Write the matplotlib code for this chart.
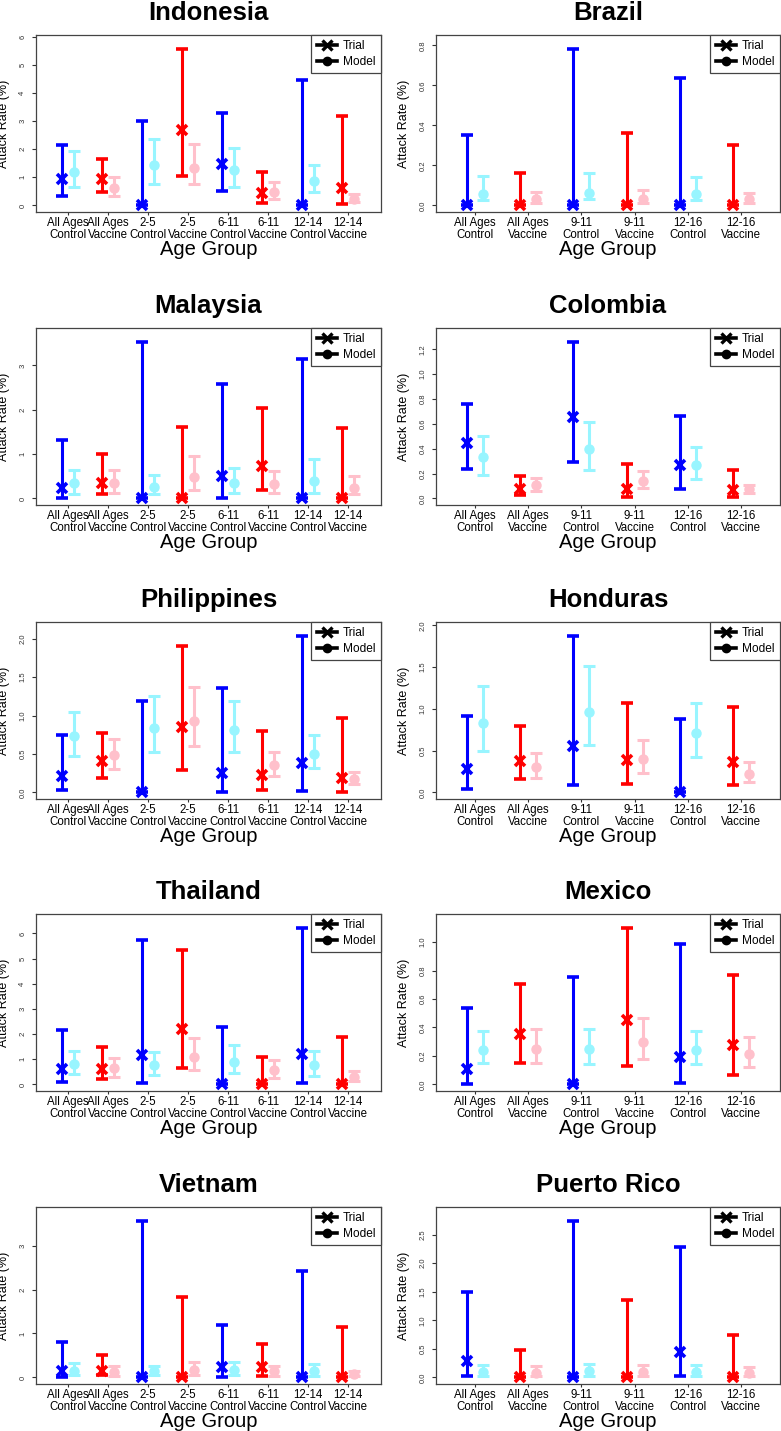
import numpy as np
import matplotlib
matplotlib.use("Agg")
import matplotlib.pyplot as plt
from matplotlib.lines import Line2D
from matplotlib.ticker import MultipleLocator

plt.rcParams['font.family'] = ['Liberation Sans', 'DejaVu Sans']

groups_a = ["All Ages\nControl", "All Ages\nVaccine", "2-5\nControl", "2-5\nVaccine",
            "6-11\nControl", "6-11\nVaccine", "12-14\nControl", "12-14\nVaccine"]
groups_b = ["All Ages\nControl", "All Ages\nVaccine", "9-11\nControl", "9-11\nVaccine",
            "12-16\nControl", "12-16\nVaccine"]

#%% trial / model estimates with intervals
indonesia_trial = [0.95, 0.93, 0, 2.68, 1.46, 0.43, 0, 0.63]
indonesia_trial_lo = [0.33, 0.47, 0, 1.04, 0.51, 0.10, 0, 0.04]
indonesia_trial_hi = [2.15, 1.64, 3.00, 5.55, 3.27, 1.19, 4.46, 3.19]
indonesia_model = [1.20, 0.63, 1.44, 1.34, 1.26, 0.49, 0.87, 0.24]
indonesia_model_lo = [0.65, 0.33, 0.78, 0.78, 0.66, 0.24, 0.47, 0.13]
indonesia_model_hi = [1.93, 1.02, 2.38, 2.20, 2.03, 0.82, 1.44, 0.39]

brazil_trial = [0, 0, 0, 0, 0, 0]
brazil_trial_lo = [0, 0, 0, 0, 0, 0]
brazil_trial_hi = [0.351, 0.164, 0.780, 0.361, 0.636, 0.303]
brazil_model = [0.059, 0.033, 0.064, 0.033, 0.059, 0.030]
brazil_model_lo = [0.027, 0.013, 0.030, 0.013, 0.027, 0.012]
brazil_model_hi = [0.147, 0.067, 0.161, 0.077, 0.142, 0.062]

malaysia_trial = [0.24, 0.35, 0, 0, 0.50, 0.73, 0, 0]
malaysia_trial_lo = [0.015, 0.09, 0, 0, 0.015, 0.18, 0, 0]
malaysia_trial_hi = [1.31, 1.01, 3.52, 1.61, 2.59, 2.04, 3.15, 1.58]
malaysia_model = [0.34, 0.34, 0.26, 0.49, 0.35, 0.33, 0.40, 0.24]
malaysia_model_lo = [0.11, 0.13, 0.09, 0.19, 0.13, 0.13, 0.13, 0.09]
malaysia_model_hi = [0.65, 0.65, 0.53, 0.95, 0.69, 0.63, 0.90, 0.50]

colombia_trial = [0.45, 0.08, 0.655, 0.08, 0.273, 0.067]
colombia_trial_lo = [0.24, 0.024, 0.294, 0.013, 0.08, 0.013]
colombia_trial_hi = [0.76, 0.18, 1.256, 0.278, 0.665, 0.227]
colombia_model = [0.33, 0.107, 0.398, 0.144, 0.273, 0.077]
colombia_model_lo = [0.19, 0.059, 0.232, 0.086, 0.158, 0.045]
colombia_model_hi = [0.50, 0.166, 0.612, 0.219, 0.414, 0.112]

philippines_trial = [0.217, 0.404, 0, 0.848, 0.252, 0.23, 0.383, 0.183]
philippines_trial_lo = [0.035, 0.183, 0, 0.296, 0.009, 0.035, 0.017, 0.009]
philippines_trial_hi = [0.748, 0.77, 1.187, 1.904, 1.357, 0.796, 2.03, 0.965]
philippines_model = [0.73, 0.487, 0.839, 0.935, 0.813, 0.357, 0.50, 0.174]
philippines_model_lo = [0.478, 0.304, 0.53, 0.60, 0.522, 0.217, 0.317, 0.104]
philippines_model_hi = [1.052, 0.696, 1.252, 1.37, 1.187, 0.522, 0.752, 0.26]

honduras_trial = [0.275, 0.378, 0.554, 0.386, 0, 0.367]
honduras_trial_lo = [0.04, 0.155, 0.088, 0.096, 0, 0.088]
honduras_trial_hi = [0.916, 0.793, 1.868, 1.072, 0.873, 1.024]
honduras_model = [0.833, 0.307, 0.964, 0.398, 0.713, 0.219]
honduras_model_lo = [0.494, 0.175, 0.566, 0.235, 0.426, 0.12]
honduras_model_hi = [1.271, 0.474, 1.51, 0.633, 1.076, 0.359]

thailand_trial = [0.62, 0.62, 1.17, 2.22, 0, 0, 1.19, 0]
thailand_trial_lo = [0.106, 0.20, 0.066, 0.66, 0, 0, 0.066, 0]
thailand_trial_hi = [2.16, 1.49, 5.75, 5.35, 2.30, 1.09, 6.20, 1.88]
thailand_model = [0.80, 0.64, 0.76, 1.10, 0.90, 0.56, 0.76, 0.31]
thailand_model_lo = [0.40, 0.31, 0.36, 0.57, 0.46, 0.27, 0.33, 0.13]
thailand_model_hi = [1.33, 1.04, 1.30, 1.86, 1.55, 0.96, 1.33, 0.53]

mexico_trial = [0.105, 0.354, 0, 0.45, 0.192, 0.274]
mexico_trial_lo = [0.005, 0.15, 0, 0.133, 0.009, 0.063]
mexico_trial_hi = [0.539, 0.703, 0.756, 1.096, 0.988, 0.768]
mexico_model = [0.241, 0.248, 0.246, 0.30, 0.239, 0.211]
mexico_model_lo = [0.148, 0.15, 0.145, 0.18, 0.145, 0.119]
mexico_model_hi = [0.372, 0.389, 0.389, 0.464, 0.372, 0.33]

vietnam_trial = [0.137, 0.137, 0, 0, 0.23, 0.23, 0, 0]
vietnam_trial_lo = [0.01, 0.05, 0, 0, 0.015, 0.03, 0, 0]
vietnam_trial_hi = [0.80, 0.50, 3.55, 1.83, 1.20, 0.77, 2.43, 1.15]
vietnam_model = [0.15, 0.12, 0.137, 0.17, 0.16, 0.137, 0.15, 0.076]
vietnam_model_lo = [0.05, 0.04, 0.05, 0.06, 0.05, 0.04, 0.04, 0.023]
vietnam_model_hi = [0.33, 0.25, 0.27, 0.36, 0.35, 0.27, 0.31, 0.15]

puertorico_trial = [0.29, 0, 0, 0, 0.444, 0]
puertorico_trial_lo = [0.018, 0, 0, 0, 0.018, 0]
puertorico_trial_hi = [1.495, 0.473, 2.73, 1.36, 2.278, 0.736]
puertorico_model = [0.093, 0.076, 0.117, 0.093, 0.093, 0.076]
puertorico_model_lo = [0.018, 0.018, 0.03, 0.018, 0.018, 0.018]
puertorico_model_hi = [0.222, 0.193, 0.24, 0.222, 0.222, 0.175]

panels = [
    ("Indonesia", groups_a, indonesia_trial, indonesia_trial_lo, indonesia_trial_hi,
     indonesia_model, indonesia_model_lo, indonesia_model_hi, 1),
    ("Brazil", groups_b, brazil_trial, brazil_trial_lo, brazil_trial_hi,
     brazil_model, brazil_model_lo, brazil_model_hi, 0.2),
    ("Malaysia", groups_a, malaysia_trial, malaysia_trial_lo, malaysia_trial_hi,
     malaysia_model, malaysia_model_lo, malaysia_model_hi, 1),
    ("Colombia", groups_b, colombia_trial, colombia_trial_lo, colombia_trial_hi,
     colombia_model, colombia_model_lo, colombia_model_hi, 0.2),
    ("Philippines", groups_a, philippines_trial, philippines_trial_lo, philippines_trial_hi,
     philippines_model, philippines_model_lo, philippines_model_hi, 0.5),
    ("Honduras", groups_b, honduras_trial, honduras_trial_lo, honduras_trial_hi,
     honduras_model, honduras_model_lo, honduras_model_hi, 0.5),
    ("Thailand", groups_a, thailand_trial, thailand_trial_lo, thailand_trial_hi,
     thailand_model, thailand_model_lo, thailand_model_hi, 1),
    ("Mexico", groups_b, mexico_trial, mexico_trial_lo, mexico_trial_hi,
     mexico_model, mexico_model_lo, mexico_model_hi, 0.2),
    ("Vietnam", groups_a, vietnam_trial, vietnam_trial_lo, vietnam_trial_hi,
     vietnam_model, vietnam_model_lo, vietnam_model_hi, 1),
    ("Puerto Rico", groups_b, puertorico_trial, puertorico_trial_lo, puertorico_trial_hi,
     puertorico_model, puertorico_model_lo, puertorico_model_hi, 0.5),
]

trial_cols = ["#0000FF", "#FF0000"]
model_cols = ["#98F5FF", "#FFC0CB"]

W, H = 781, 1431
fig = plt.figure(figsize=(W / 100, H / 100), dpi=100)

col_left = [36, 436]
col_width = [345, 344]
row_top = [35, 328, 622, 914, 1207]
ax_h = 177

for k, (name, groups, tr, tr_lo, tr_hi, md, md_lo, md_hi, step) in enumerate(panels):
    r, c = k // 2, k % 2
    ax = fig.add_axes([col_left[c] / W, 1 - (row_top[r] + ax_h) / H,
                       col_width[c] / W, ax_h / H])
    n = len(groups)
    x = np.arange(1, n + 1)
    tr, tr_lo, tr_hi = map(np.array, (tr, tr_lo, tr_hi))
    md, md_lo, md_hi = map(np.array, (md, md_lo, md_hi))
    for i in range(n):
        ax.errorbar(x[i], tr[i], yerr=[[tr[i] - tr_lo[i]], [tr_hi[i] - tr[i]]],
                    color=trial_cols[i % 2], marker='x', ms=7.5, mew=2.6,
                    elinewidth=2.2, capsize=4.3, capthick=2.2, zorder=3)
        ax.errorbar(x[i] + 0.3, md[i], yerr=[[md[i] - md_lo[i]], [md_hi[i] - md[i]]],
                    color=model_cols[i % 2], marker='o', ms=6.5,
                    elinewidth=2.2, capsize=4.3, capthick=2.2, zorder=2)

    top = max(tr_hi.max(), md_hi.max()) * 1.05
    ax.set_ylim(-0.04 * top, 1.04 * top)
    if n == 8:
        ax.set_xlim(0.35, 8.975)
    else:
        ax.set_xlim(0.42, 6.88)

    ax.yaxis.set_major_locator(MultipleLocator(step))
    ax.tick_params(axis='y', labelrotation=90, labelsize=5.5, length=3, pad=4,
                   colors='#333333')
    for lab in ax.get_yticklabels():
        lab.set_va('center')
    ax.set_xticks(x + 0.15)
    ax.set_xticklabels(groups, fontsize=8.3, linespacing=1.05)
    ax.tick_params(axis='x', length=2.5, pad=1, colors='#333333', labelcolor='black')

    for sp in ax.spines.values():
        sp.set_color('#444444')
        sp.set_linewidth(0.9)

    ax.set_title(name, fontsize=18.5, fontweight='bold', pad=11)
    ax.set_xlabel("Age Group", fontsize=14.5)
    ax.xaxis.set_label_coords(0.5, -0.16)
    ax.xaxis.label.set_va('top')
    ax.set_ylabel("Attack Rate (%)", fontsize=9)
    ax.yaxis.set_label_coords(-26 / col_width[c], 0.5)

    handles = [Line2D([], [], color='black', lw=2.6, marker='x', ms=6.5, mew=2.4),
               Line2D([], [], color='black', lw=2.6, marker='o', ms=6)]
    leg = ax.legend(handles, ["Trial", "Model"], loc='upper right', fontsize=8.6,
                    borderaxespad=0, fancybox=False, framealpha=1, handlelength=1.7,
                    handletextpad=0.5, borderpad=0.45, labelspacing=0.3)
    leg.get_frame().set_edgecolor('#444444')
    leg.get_frame().set_linewidth(0.9)

fig.savefig("out.png", dpi=100)
